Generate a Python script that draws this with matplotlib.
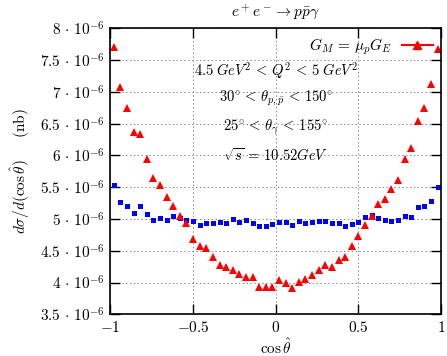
import numpy as np
import matplotlib
matplotlib.use("Agg")
import matplotlib.pyplot as plt
from matplotlib.ticker import FixedLocator

plt.rcParams['mathtext.fontset'] = 'cm'
plt.rcParams['font.family'] = ['DejaVu Serif']

cos_theta = [-0.98, -0.94, -0.90, -0.86, -0.82, -0.78, -0.74, -0.70, -0.66, -0.62,
             -0.58, -0.54, -0.50, -0.46, -0.42, -0.38, -0.34, -0.30, -0.26, -0.22,
             -0.18, -0.14, -0.10, -0.06, -0.02, 0.02, 0.06, 0.10, 0.14, 0.18,
             0.22, 0.26, 0.30, 0.34, 0.38, 0.42, 0.46, 0.50, 0.54, 0.58,
             0.62, 0.66, 0.70, 0.74, 0.78, 0.82, 0.86, 0.90, 0.94, 0.98]

# values in units of 1e-6 nb
red_gm_mugE = [7.71, 7.07, 6.74, 6.37, 6.34, 5.94, 5.65, 5.54, 5.35, 5.21,
               5.04, 4.93, 4.69, 4.58, 4.54, 4.40, 4.28, 4.25, 4.20, 4.13,
               4.08, 4.09, 3.93, 3.93, 3.93, 4.04, 3.99, 3.92, 4.01, 4.06,
               4.12, 4.19, 4.27, 4.24, 4.35, 4.40, 4.57, 4.74, 4.91, 5.04,
               5.23, 5.31, 5.47, 5.62, 5.94, 6.12, 6.54, 6.75, 7.12, 7.67]

blue_other = [5.54, 5.26, 5.21, 5.09, 5.20, 5.08, 4.98, 5.02, 4.99, 5.05,
              5.02, 4.99, 4.97, 4.91, 4.94, 4.94, 4.95, 4.94, 5.00, 4.96,
              4.98, 4.93, 4.89, 4.89, 4.92, 4.96, 4.95, 4.91, 4.97, 4.94,
              4.96, 4.97, 4.97, 4.93, 4.93, 4.89, 4.92, 4.96, 5.03, 5.06,
              5.02, 4.98, 4.97, 4.98, 5.04, 5.03, 5.19, 5.21, 5.28, 5.51]

x_ticks = [-1, -0.5, 0, 0.5, 1]
x_tick_labels = [r'$-1$', r'$-0.5$', r'$0$', r'$0.5$', r'$1$']
y_ticks = [3.5, 4.0, 4.5, 5.0, 5.5, 6.0, 6.5, 7.0, 7.5, 8.0]
y_tick_labels = [r'$3.5\,\cdot\,10^{-6}$', r'$4\,\cdot\,10^{-6}$', r'$4.5\,\cdot\,10^{-6}$',
                 r'$5\,\cdot\,10^{-6}$', r'$5.5\,\cdot\,10^{-6}$', r'$6\,\cdot\,10^{-6}$',
                 r'$6.5\,\cdot\,10^{-6}$', r'$7\,\cdot\,10^{-6}$', r'$7.5\,\cdot\,10^{-6}$',
                 r'$8\,\cdot\,10^{-6}$']

fig = plt.figure(figsize=(4.47, 3.56), dpi=100)
ax = fig.add_axes([0.247, 0.117, 0.7396, 0.8035])

ax.plot(cos_theta, blue_other, linestyle='none', marker='s', markersize=3.6,
        color='#0000ff', markeredgewidth=0)
ax.plot(cos_theta, red_gm_mugE, linestyle='none', marker='^', markersize=5.5,
        color='#ff0000', markeredgewidth=0)
ax.plot([], [], color='#ff0000', marker='^', markersize=5.5, linewidth=1.5,
        label=r'$G_M\,=\,\mu_p G_E$')

ax.set_xlim(-1, 1)
ax.set_ylim(3.5, 8.0)
ax.xaxis.set_major_locator(FixedLocator(x_ticks))
ax.set_xticklabels(x_tick_labels, fontsize=11)
ax.yaxis.set_major_locator(FixedLocator(y_ticks))
ax.set_yticklabels(y_tick_labels, fontsize=11)
ax.tick_params(direction='in', length=7, width=1, top=True, right=True, pad=4)
ax.grid(True, linestyle=(0, (1.5, 2.5)), color='#888888', linewidth=0.7)
for s in ax.spines.values():
    s.set_linewidth(1.2)

ax.set_xlabel(r'$\cos\hat{\theta}$', fontsize=11, labelpad=2)
ax.set_ylabel(r'$d\sigma/d(\cos\hat{\theta})\quad\ \ \mathrm{(nb)}$', fontsize=11, labelpad=6)
fig.text(0.615, 0.967, r'$e^+e^- \to p\bar{p}\gamma$', ha='center', va='center', fontsize=11)

leg = ax.legend(loc='upper right', frameon=False, fontsize=11, handlelength=2.0,
                borderaxespad=0.15, handletextpad=0.7, markerfirst=False)

ax.text(0.0, 7.33, r'$4.5\; GeV^2\,<\,Q^2\,<\,5\; GeV^2$', ha='center', va='center', fontsize=10.5)
ax.text(0.0, 6.90, r'$30^{\circ}\,<\,\theta_{p,\bar{p}}\,<\,150^{\circ}$', ha='center', va='center', fontsize=10.5)
ax.text(0.0, 6.45, r'$25^{\circ}\,<\,\theta_{\gamma}\,<\,155^{\circ}$', ha='center', va='center', fontsize=10.5)
ax.text(0.0, 6.00, r'$\sqrt{s}\,=\,10.52 GeV$', ha='center', va='center', fontsize=10.5)

fig.savefig('out.png', dpi=100)
